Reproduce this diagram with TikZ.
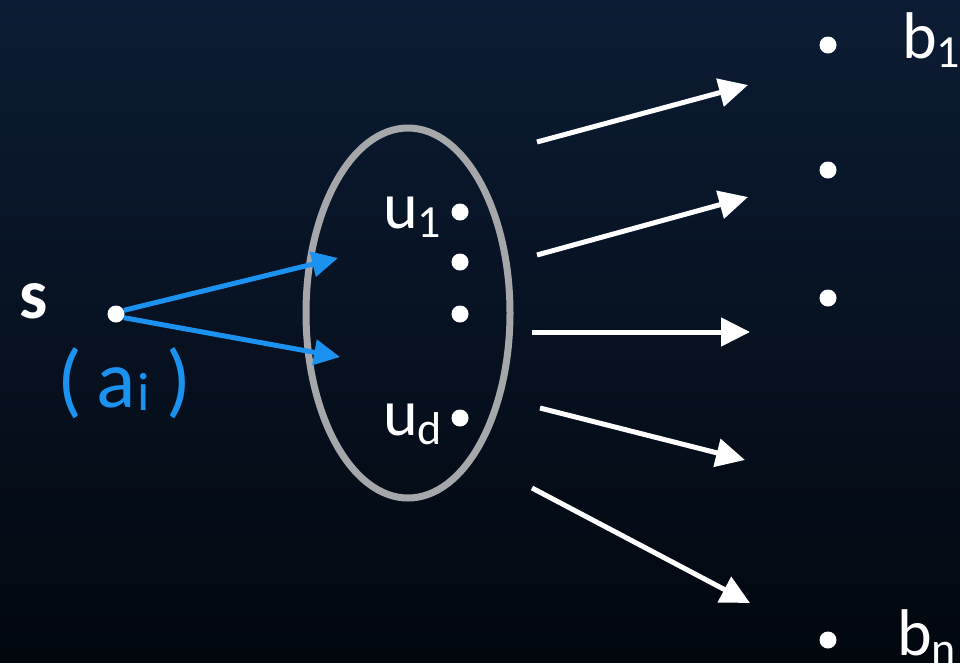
\documentclass[tikz,border=0pt]{standalone}
\usepackage{fontspec}
\setmainfont{Carlito}
\usetikzlibrary{arrows.meta,shapes.geometric}
\definecolor{bgtop}{RGB}{12,28,52}
\definecolor{bgbot}{RGB}{2,7,14}
\definecolor{flowblue}{RGB}{28,146,240}
\definecolor{ringgray}{RGB}{165,167,171}
% lowered, smaller index
\newcommand\lowidx[1]{\raisebox{-0.3ex}{\fontsize{46}{46}\selectfont #1}}
\newcommand\fsz[1]{\fontsize{#1}{#1}\selectfont}

\begin{document}
\begin{tikzpicture}[x=1pt,y=-1pt,
  dot/.style={circle,fill=white,inner sep=0pt,minimum size=17pt},
  lbl/.style={text=white,font=\fsz{66},inner sep=0pt},
  outarrow/.style={draw=white,line width=5pt,-{Triangle[length=29pt,width=28pt]}},
  inarrow/.style={draw=flowblue,line width=5pt,-{Triangle[length=26pt,width=25pt]}},
]
% background
\fill[top color=bgtop,bottom color=bgbot] (0,0) rectangle (960,662);
\useasboundingbox (0,0) rectangle (960,662);

% source vertex
\node[lbl,font=\fsz{71}\bfseries,anchor=base west] (slbl) at (19,318) {s};
\node[dot] (s) at (116,314) {};
\node[lbl,text=flowblue,anchor=base west] (ai) at (57,407)
  {{\fsz{82}(}\hspace{15pt}{\fsz{82}a}\hspace{1pt}\raisebox{-3pt}{\fsz{54}i}\hspace{17pt}{\fsz{82})}};

% neighbourhood set
\node[ellipse,draw=ringgray,line width=7pt,inner sep=0pt,
      minimum width=204pt,minimum height=370pt] (set) at (408,313) {};
\node[dot] (u1) at (460,212) {};
\node[dot] (u2) at (460,262) {};
\node[dot] (u3) at (460,314) {};
\node[dot] (ud) at (460,418) {};
\node[lbl,anchor=base west] (u1lbl) at (383,228) {u\lowidx{1}};
\node[lbl,anchor=base west] (udlbl) at (383,435) {u\lowidx{d}};

% targets
\node[dot] (b1) at (828,45) {};
\node[dot] (b2) at (828,170) {};
\node[dot] (b3) at (828,298) {};
\node[dot] (bn) at (828,640) {};
\node[lbl,anchor=base west] (b1lbl) at (902,58) {b\lowidx{1}};
\node[lbl,anchor=base west] (bnlbl) at (897,655) {b\lowidx{n}};

% arrows into the set
\coordinate (ina) at (338,258);
\coordinate (inb) at (340,357);
\draw[inarrow] (s.25) -- (ina);
\draw[inarrow] (s.-25) -- (inb);

% arrows out of the set
\coordinate (o1a) at (537,142); \coordinate (o1b) at (748,85);
\coordinate (o2a) at (537,255); \coordinate (o2b) at (748,197);
\coordinate (o3a) at (532,332); \coordinate (o3b) at (750,332);
\coordinate (o4a) at (540,408); \coordinate (o4b) at (745,460);
\coordinate (o5a) at (532,488); \coordinate (o5b) at (750,603);
\draw[outarrow] (o1a) -- (o1b);
\draw[outarrow] (o2a) -- (o2b);
\draw[outarrow] (o3a) -- (o3b);
\draw[outarrow] (o4a) -- (o4b);
\draw[outarrow] (o5a) -- (o5b);
\end{tikzpicture}
\end{document}
